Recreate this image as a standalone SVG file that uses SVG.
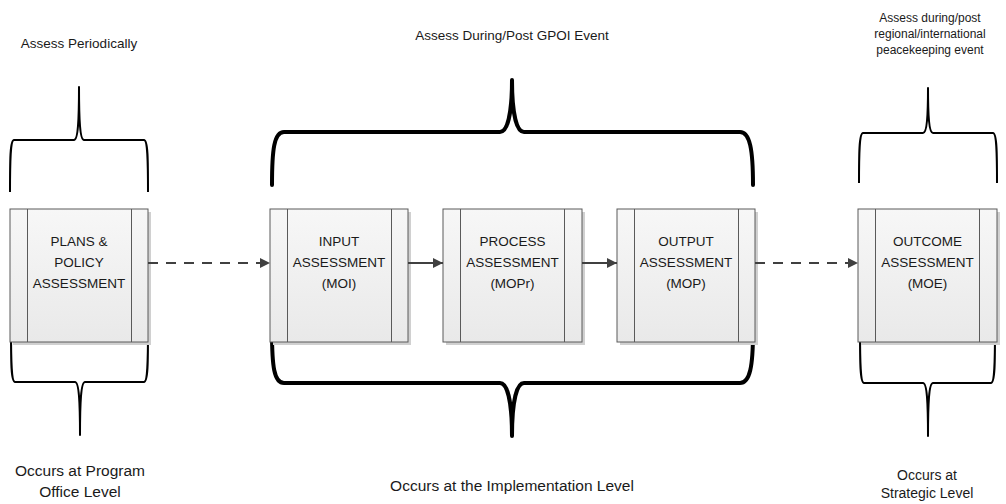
<svg xmlns="http://www.w3.org/2000/svg" width="1006" height="504" viewBox="0 0 1006 504">
<defs>
<linearGradient id="g" x1="0" y1="0" x2="0" y2="1">
<stop offset="0" stop-color="#f7f7f7"/>
<stop offset="1" stop-color="#e9e9e9"/>
</linearGradient>
<marker id="ah" viewBox="0 0 10 10" refX="10" refY="5" markerWidth="10" markerHeight="10" markerUnits="userSpaceOnUse" orient="auto">
<path d="M0,0 L10,5 L0,10 z" fill="#404040"/>
</marker>
<style>
.box{fill:url(#g);stroke:#5a5a5a;stroke-width:1}
.sh{fill:#d0d0d0}
.in{stroke:#5a5a5a;stroke-width:1;fill:none}
.bt{font-family:"Liberation Sans",Arial,sans-serif;font-size:13.5px;fill:#1a1a1a;text-anchor:middle}
.lb{font-family:"Liberation Sans",Arial,sans-serif;font-size:12px;fill:#1a1a1a;text-anchor:middle}
.lt{font-family:"Liberation Sans",Arial,sans-serif;font-size:13.5px;fill:#1a1a1a;text-anchor:middle}
.lbb{font-family:"Liberation Sans",Arial,sans-serif;font-size:15.5px;fill:#1a1a1a;text-anchor:middle}
.lbr{font-family:"Liberation Sans",Arial,sans-serif;font-size:14px;fill:#1a1a1a;text-anchor:middle}
.br{fill:none;stroke:#000;stroke-width:2;stroke-linejoin:round}
.brt{fill:none;stroke:#000;stroke-width:4;stroke-linecap:round;stroke-linejoin:round}
.c{fill:none;stroke:#404040;stroke-width:2;marker-end:url(#ah)}
.d{stroke-dasharray:10 8}
</style>
</defs>

<g id="braces">
<path class="br" d="M10,192 C10,160 10,140 14,140 L74,140 C78,140 79,120 79,87 C79,120 80,140 84,140 L144,140 C148,140 148,160 148,192"/>
<path class="brt" d="M272,185 C272,150 274,132 284,132 L500,132 C507,132 512,115 512,80 C512,115 517,132 524,132 L740,132 C750,132 753,150 753,185"/>
<path class="br" d="M859,183 C859,155 859,133 863,133 L923,133 C927,133 928,115 928,88 C928,115 929,133 933,133 L993,133 C997,133 997,155 997,183"/>
<path class="br" d="M11,330 C11,362 11,382 15,382 L75,382 C79,382 80,402 80,435 C80,402 81,382 85,382 L144,382 C148,382 148,362 148,330"/>
<path class="brt" d="M272,332 C272,366 274,383 284,383 L500,383 C507,383 512,400 512,436 C512,400 517,383 524,383 L740,383 C750,383 753,366 753,332"/>
<path class="br" d="M860,330 C860,362 860,383 864,383 L923,383 C927,383 928,402 928,436 C928,402 929,383 933,383 L991,383 C995,383 995,362 995,330"/>
</g>

<g id="node-plans">
<rect class="sh" x="13" y="212" width="138" height="133"/>
<rect class="box" x="10" y="209" width="138" height="133"/>
<path class="in" d="M27.5,209 V342 M131.5,209 V342"/>
<text class="bt" x="79" y="246">PLANS &amp;</text>
<text class="bt" x="79" y="267">POLICY</text>
<text class="bt" x="79" y="288">ASSESSMENT</text>
</g>

<g id="node-input">
<rect class="sh" x="273" y="212" width="138" height="133"/>
<rect class="box" x="270" y="209" width="138" height="133"/>
<path class="in" d="M287.5,209 V342 M391.5,209 V342"/>
<text class="bt" x="339" y="246">INPUT</text>
<text class="bt" x="339" y="267">ASSESSMENT</text>
<text class="bt" x="339" y="288">(MOI)</text>
</g>

<g id="node-process">
<rect class="sh" x="446" y="212" width="139" height="133"/>
<rect class="box" x="443" y="209" width="139" height="133"/>
<path class="in" d="M460.5,209 V342 M564.5,209 V342"/>
<text class="bt" x="512.5" y="246">PROCESS</text>
<text class="bt" x="512.5" y="267">ASSESSMENT</text>
<text class="bt" x="512.5" y="288">(MOPr)</text>
</g>

<g id="node-output">
<rect class="sh" x="620" y="212" width="138" height="133"/>
<rect class="box" x="617" y="209" width="138" height="133"/>
<path class="in" d="M634.5,209 V342 M738.5,209 V342"/>
<text class="bt" x="686" y="246">OUTPUT</text>
<text class="bt" x="686" y="267">ASSESSMENT</text>
<text class="bt" x="686" y="288">(MOP)</text>
</g>

<g id="node-outcome">
<rect class="sh" x="861" y="212" width="139" height="133"/>
<rect class="box" x="858" y="209" width="139" height="133"/>
<path class="in" d="M875.5,209 V342 M979.5,209 V342"/>
<text class="bt" x="927.5" y="246">OUTCOME</text>
<text class="bt" x="927.5" y="267">ASSESSMENT</text>
<text class="bt" x="927.5" y="288">(MOE)</text>
</g>

<g id="connectors">
<path class="c d" d="M148,263 H270"/>
<path class="c" d="M408,263 H443"/>
<path class="c" d="M582,263 H617"/>
<path class="c d" d="M755,263 H858"/>
</g>

<g id="labels">
<text class="lt" x="79" y="47.5">Assess Periodically</text>
<text class="lt" x="512" y="39.5">Assess During/Post GPOI Event</text>
<text class="lb" x="930" y="22">Assess during/post</text>
<text class="lb" x="930" y="38">regional/international</text>
<text class="lb" x="930" y="54">peacekeeping event</text>
<text class="lbb" x="80" y="475.5">Occurs at Program</text>
<text class="lbb" x="80" y="497">Office Level</text>
<text class="lbb" x="512" y="490.5">Occurs at the Implementation Level</text>
<text class="lbr" x="927" y="480">Occurs at</text>
<text class="lbr" x="927" y="498">Strategic Level</text>
</g>
</svg>
